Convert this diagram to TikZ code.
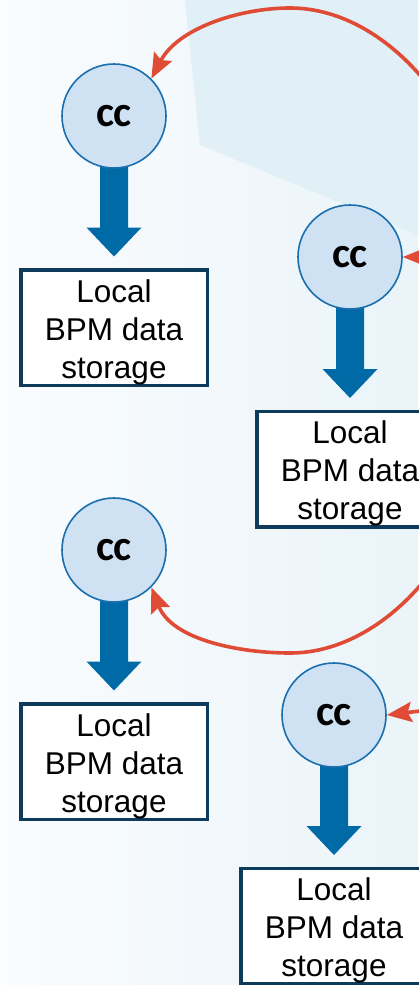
\documentclass[tikz,border=0pt]{standalone}
\usepackage{fontspec}
\setmainfont{Liberation Sans}
\newfontfamily\ccfont{Carlito}
\usetikzlibrary{arrows.meta,calc,backgrounds}
\definecolor{ccfill}{HTML}{CFE2F3}
\definecolor{ccline}{HTML}{1B6FAE}
\definecolor{flowblue}{HTML}{006AA6}
\definecolor{boxline}{HTML}{0E3B5C}
\definecolor{linkred}{HTML}{E04B35}
\definecolor{bgleft}{HTML}{FAFCFE}
\definecolor{bgright}{HTML}{EAF4F9}
\definecolor{bgpane}{HTML}{E1EFF7}
% taller first line, so the three lines sit a little lower in the box
\newcommand\tallstrut{\rule{0pt}{32pt}}
\begin{document}
\begin{tikzpicture}[x=1pt,y=-1pt,
  ccnode/.style={circle, draw=ccline, line width=1.6pt, fill=ccfill,
    minimum size=104pt, inner sep=0pt,
    font=\ccfont\bfseries\fontsize{43}{43}\selectfont},
  storebox/.style={rectangle, draw=boxline, line width=3.5pt, fill=white,
    minimum width=186.5pt, minimum height=115.5pt, inner sep=0pt,
    align=center, font=\fontsize{31.5}{38}\selectfont},
  link/.style={draw=linkred, line width=3.6pt, line join=round,
    -{Stealth[length=25pt,width=20pt,inset=4pt]}},
  flow/.style={fill=flowblue, to path={let \p1=(\tikztostart), \p2=(\tikztotarget) in
    (\x1-14pt,\y1) -- (\x1-14pt,\y2+29pt) -- (\x1-27.5pt,\y2+29pt) -- (\x2,\y2)
    -- (\x1+27.5pt,\y2+29pt) -- (\x1+14pt,\y2+29pt) -- (\x1+14pt,\y1) -- cycle}}
]
\useasboundingbox (0,0) rectangle (418,985);

% controllers and their local storage
\node[ccnode] (c1) at (114,116) {cc};
\node[storebox] (b1) at (114,327.5) {\tallstrut Local\\BPM data\\storage};
\node[ccnode] (c2) at (350,257) {cc};
\node[storebox] (b2) at (350,469) {\tallstrut Local\\BPM data\\storage};
\node[ccnode] (c3) at (114,550) {cc};
\node[storebox] (b3) at (114,761.5) {\tallstrut Local\\BPM data\\storage};
\node[ccnode] (c4) at (334,715) {cc};
\node[storebox] (b4) at (334,926) {\tallstrut Local\\BPM data\\storage};

% incoming links start beyond the right edge
\coordinate (srcA) at (430,86.5);
\coordinate (srcB) at (445,257);
\coordinate (srcC) at (430,574.5);
\coordinate (srcD) at (445,708);

\begin{scope}[on background layer]
  \shade[left color=bgleft, right color=bgright] (0,0) rectangle (418,985);
  \fill[bgpane] (185,0) -- (200,145) -- (418,235) -- (418,0) -- cycle;
  \path[flow] (c1.center) to ([yshift=11.5pt]b1.north);
  \path[flow] (c2.center) to ([yshift=11.5pt]b2.north);
  \path[flow] (c3.center) to ([yshift=11.5pt]b3.north);
  \path[flow] (c4.center) to ([yshift=11.5pt]b4.north);
\end{scope}

% red links
\draw[link] (srcA) -- (418,73) .. controls (385,36) and (340,8) .. (290,8)
  .. controls (240,8) and (178,28) .. (c1.north east);
\draw[link] (srcB) -- (c2.east);
\draw[link] (srcC) -- (418,588) .. controls (385,625) and (340,653) .. (290,653)
  .. controls (240,653) and (172,640) .. (c3.south east);
\draw[link] (srcD) -- (c4.east);
\end{tikzpicture}
\end{document}
